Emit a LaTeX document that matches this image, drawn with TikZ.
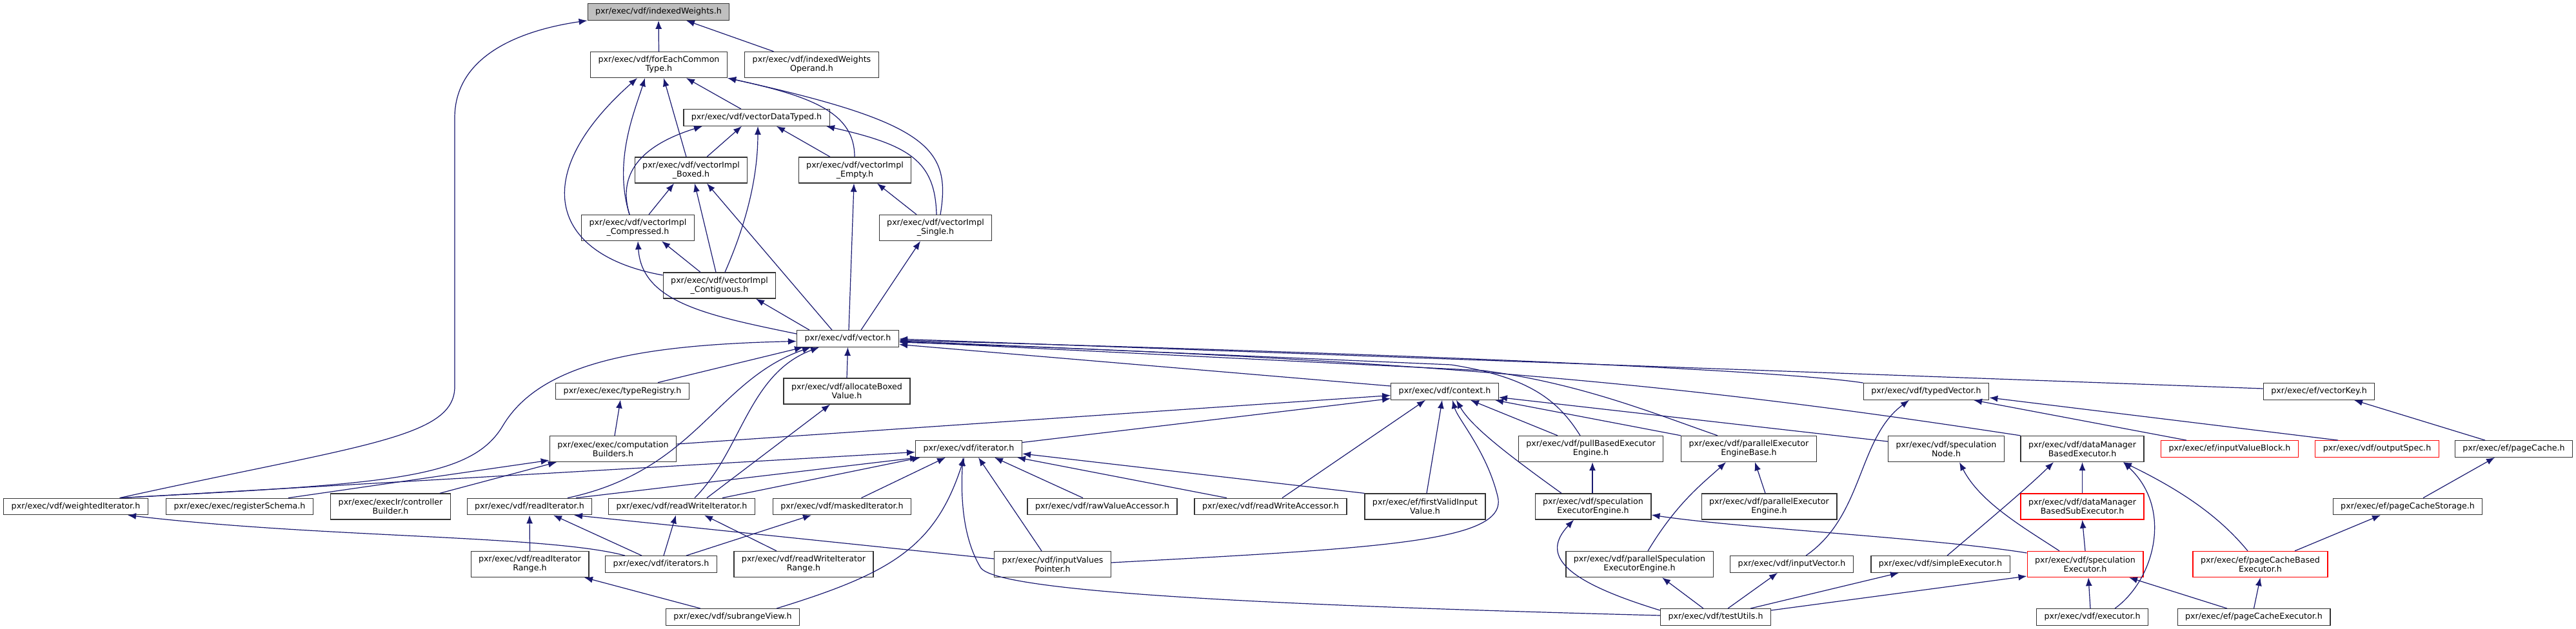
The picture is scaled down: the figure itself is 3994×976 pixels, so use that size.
\documentclass[tikz,border=0pt]{standalone}
\usepackage{fontspec}
\setmainfont{DejaVu Sans}
\usetikzlibrary{arrows.meta}
\definecolor{edgeblue}{RGB}{25,25,112}
\definecolor{rootgray}{RGB}{191,191,191}
\definecolor{boxred}{RGB}{255,0,0}
\newcommand{\filefont}{\fontsize{12.65}{14}\selectfont}

\begin{document}
\begin{tikzpicture}[x=1pt,y=-1pt,
  file/.style={draw=black!80,fill=white,line width=1.3pt,font=\filefont,inner xsep=12pt,inner ysep=0pt,minimum height=25.5pt},
  file2/.style={file,align=center,minimum height=40pt},
  trunc/.style={draw=boxred},
  root/.style={fill=rootgray},
  inc/.style={draw=edgeblue,line width=1.2pt,-{Latex[length=13pt,width=10pt]}}]
\useasboundingbox (0,0) rectangle (3994,976);

\node[file,root] (iw) at (1021,18.5) {pxr/exec/vdf/indexedWeights.h};
\node[file2] (fect) at (1021.5,100.5) {pxr/exec/vdf/forEachCommon\\Type.h};
\node[file2] (iwo) at (1258.5,100.5) {pxr/exec/vdf/indexedWeights\\Operand.h};
\node[file] (vdt) at (1173,182.5) {pxr/exec/vdf/vectorDataTyped.h};
\node[file2] (vboxed) at (1071.5,264) {pxr/exec/vdf/vectorImpl\\\_Boxed.h};
\node[file2] (vempty) at (1325.5,264) {pxr/exec/vdf/vectorImpl\\\_Empty.h};
\node[file2] (vcomp) at (989,353.5) {pxr/exec/vdf/vectorImpl\\\_Compressed.h};
\node[file2] (vsingle) at (1450.5,353.5) {pxr/exec/vdf/vectorImpl\\\_Single.h};
\node[file2] (vcont) at (1115.5,443) {pxr/exec/vdf/vectorImpl\\\_Contiguous.h};
\node[file] (vector) at (1314.5,525.5) {pxr/exec/vdf/vector.h};

\node[file] (typereg) at (965,607) {pxr/exec/exec/typeRegistry.h};
\node[file2] (allocbv) at (1313,607) {pxr/exec/vdf/allocateBoxed\\Value.h};
\node[file] (context) at (2240,607.5) {pxr/exec/vdf/context.h};
\node[file] (typedvec) at (2986.5,607.5) {pxr/exec/vdf/typedVector.h};
\node[file] (vectorkey) at (3595.5,607.5) {pxr/exec/ef/vectorKey.h};

\node[file2] (compb) at (950.5,696.5) {pxr/exec/exec/computation\\Builders.h};
\node[file] (iter) at (1502,696.5) {pxr/exec/vdf/iterator.h};
\node[file2] (pullbee) at (2466.5,696.5) {pxr/exec/vdf/pullBasedExecutor\\Engine.h};
\node[file2] (pxeb) at (2711.5,696.5) {pxr/exec/vdf/parallelExecutor\\EngineBase.h};
\node[file2] (specnode) at (3017.5,696.5) {pxr/exec/vdf/speculation\\Node.h};
\node[file2] (dmbe) at (3228.5,696.5) {pxr/exec/vdf/dataManager\\BasedExecutor.h};
\node[file,trunc] (ivb) at (3457,696.5) {pxr/exec/ef/inputValueBlock.h};
\node[file,trunc] (outspec) at (3685.5,696.5) {pxr/exec/vdf/outputSpec.h};
\node[file] (pagecache) at (3897.5,696.5) {pxr/exec/ef/pageCache.h};

\node[file] (weightedit) at (117.5,786) {pxr/exec/vdf/weightedIterator.h};
\node[file] (regschema) at (371.5,786) {pxr/exec/exec/registerSchema.h};
\node[file2] (ctrlb) at (605.5,786) {pxr/exec/execIr/controller\\Builder.h};
\node[file] (readit) at (821,786) {pxr/exec/vdf/readIterator.h};
\node[file] (rwit) at (1057,786) {pxr/exec/vdf/readWriteIterator.h};
\node[file] (masked) at (1305.5,786) {pxr/exec/vdf/maskedIterator.h};
\node[file] (rawva) at (1709,786) {pxr/exec/vdf/rawValueAccessor.h};
\node[file] (rwacc) at (1970,786) {pxr/exec/vdf/readWriteAccessor.h};
\node[file2] (fvi) at (2209.5,786) {pxr/exec/ef/firstValidInput\\Value.h};
\node[file2] (seee) at (2470,786) {pxr/exec/vdf/speculation\\ExecutorEngine.h};
\node[file2] (pxe) at (2743,786) {pxr/exec/vdf/parallelExecutor\\Engine.h};
\node[file2,trunc] (dmbse) at (3228.5,786) {pxr/exec/vdf/dataManager\\BasedSubExecutor.h};
\node[file] (pcstorage) at (3733,786) {pxr/exec/ef/pageCacheStorage.h};

\node[file2] (readitrange) at (821.5,875.5) {pxr/exec/vdf/readIterator\\Range.h};
\node[file] (iterators) at (1025,875.5) {pxr/exec/vdf/iterators.h};
\node[file2] (rwitrange) at (1246,875.5) {pxr/exec/vdf/readWriteIterator\\Range.h};
\node[file2] (ivp) at (1632,875.5) {pxr/exec/vdf/inputValues\\Pointer.h};
\node[file2] (pspee) at (2542,875.5) {pxr/exec/vdf/parallelSpeculation\\ExecutorEngine.h};
\node[file] (inputvec) at (2778,875.5) {pxr/exec/vdf/inputVector.h};
\node[file] (simpleex) at (3008.5,875.5) {pxr/exec/vdf/simpleExecutor.h};
\node[file2,trunc] (specex) at (3233,875.5) {pxr/exec/vdf/speculation\\Executor.h};
\node[file2,trunc] (pcbe) at (3504.5,875.5) {pxr/exec/ef/pageCacheBased\\Executor.h};

\node[file] (subrange) at (1136,957.5) {pxr/exec/vdf/subrangeView.h};
\node[file] (testutils) at (2660,957.5) {pxr/exec/vdf/testUtils.h};
\node[file] (executor) at (3244,957.5) {pxr/exec/vdf/executor.h};
\node[file] (pcexec) at (3494.5,957.5) {pxr/exec/ef/pageCacheExecutor.h};

\draw[inc] (fect.north) -- (iw.south);
\draw[inc] ([xshift=-59]iwo.north) -- ([xshift=43]iw.south);
\draw[inc] ([xshift=68]weightedit.north) .. controls (560,690) and (705,680) .. (705,600) -- (705,183) .. controls (705,80) and (820,45) .. (iw.south west);
\draw[inc] ([xshift=-24]vdt.north) -- ([xshift=42.5]fect.south);
\draw[inc] ([xshift=-7.5]vboxed.north) -- ([xshift=7.5]fect.south);
\draw[inc] ([xshift=-13]vcomp.north) .. controls (950,250) and (985,170) .. ([xshift=-21.5]fect.south);
\draw[inc] ([yshift=16]vcont.west) .. controls (850,395) and (820,270) .. ([xshift=-33.5]fect.south);
\draw[inc] ([xshift=-0.5]vempty.north) .. controls (1325,175) and (1260,150) .. (fect.south east);
\draw[inc] ([xshift=7.5]vsingle.north) .. controls (1475,230) and (1440,190) .. (fect.south east);
\draw[inc] ([xshift=-13]vcomp.north) .. controls (960,280) and (980,230) .. ([xshift=-84]vdt.south);
\draw[inc] ([xshift=24.5]vboxed.north) -- ([xshift=-23]vdt.south);
\draw[inc] ([xshift=8.5]vcont.north) .. controls (1160,340) and (1175,270) .. ([xshift=2]vdt.south);
\draw[inc] ([xshift=-38.5]vempty.north) -- ([xshift=31]vdt.south);
\draw[inc] ([xshift=1.5]vsingle.north) .. controls (1450,250) and (1410,225) .. ([xshift=108]vdt.south);
\draw[inc] ([xshift=17]vcomp.north) -- ([xshift=-26.5]vboxed.south);
\draw[inc] ([xshift=-5.5]vcont.north) -- ([xshift=5.5]vboxed.south);
\draw[inc] ([xshift=-24.5]vector.north) -- ([xshift=24.5]vboxed.south);
\draw[inc] ([xshift=1.5]vector.north) -- ([xshift=-1.5]vempty.south);
\draw[inc] ([xshift=-29.5]vsingle.north) -- ([xshift=34.5]vempty.south);
\draw[inc] ([xshift=20.5]vector.north) -- ([xshift=-23.5]vsingle.south);
\draw[inc] ([xshift=-59.5]vector.north) -- ([xshift=56.5]vcont.south);
\draw[inc] ([xshift=-29.5]vcont.north) -- ([xshift=37]vcomp.south);
\draw[inc] ([yshift=7.5]vector.west) .. controls (1100,490) and (995,470) .. (vcomp.south);

\draw[inc] ([xshift=70]weightedit.north) .. controls (600,750) and (730,745) .. (780,660) .. controls (840,560) and (1000,535) .. ([yshift=-4]vector.west);
\draw[inc] ([xshift=55]typereg.north) -- ([xshift=-69.5]vector.south);
\draw[inc] ([xshift=59]readit.north) .. controls (1080,730) and (1110,590) .. ([xshift=-57.5]vector.south);
\draw[inc] ([xshift=20]rwit.north) .. controls (1150,700) and (1160,580) .. ([xshift=-44.5]vector.south);
\draw[inc] (allocbv.north) -- (vector.south);
\draw[inc] ([xshift=39]rwit.north) -- ([xshift=-26]allocbv.south);
\draw[inc] ([xshift=63]rwit.north) -- ([xshift=-75]iter.south);
\draw[inc] ([xshift=72]readit.north) -- ([xshift=-78]iter.south);
\draw[inc] ([xshift=70]weightedit.north) -- ([yshift=-5]iter.west);
\draw[inc] ([xshift=30]masked.north) -- ([xshift=-36]iter.south);
\draw[inc] ([xshift=75.5]regschema.north) -- ([yshift=3]compb.south west);
\draw[inc] ([xshift=76.5]ctrlb.north) -- ([xshift=-87.5]compb.south);
\draw[inc] ([xshift=2.5]compb.north) -- ([xshift=-3]typereg.south);
\draw[inc] ([xshift=4]iterators.north) -- ([xshift=-9]rwit.south);
\draw[inc] ([xshift=39]iterators.north) -- ([xshift=-47.5]masked.south);
\draw[inc] ([xshift=-30]iterators.north) -- ([xshift=37]readit.south);
\draw[inc] ([xshift=-56]iterators.north) .. controls (850,830) and (500,835) .. ([xshift=80.5]weightedit.south);
\draw[inc] (readitrange.north) -- (readit.south);
\draw[inc] ([xshift=-42]rwitrange.north) -- ([xshift=35]rwit.south);
\draw[inc] ([yshift=8.5]ivp.west) -- ([xshift=69]readit.south);
\draw[inc] ([xshift=-17]ivp.north) -- ([xshift=15]iter.south);
\draw[inc] ([xshift=68]subrange.north) .. controls (1380,890) and (1450,850) .. ([xshift=-7]iter.south);
\draw[inc] ([xshift=-50]subrange.north) -- ([xshift=84.5]readitrange.south);
\draw[inc] ([yshift=2.5]testutils.west) .. controls (2000,940) and (1540,920) .. (1520,880) .. controls (1490,830) and (1490,760) .. ([xshift=-9]iter.south);
\draw[inc] ([xshift=-30]rawva.north) -- ([xshift=40]iter.south);
\draw[inc] ([xshift=-68]rwacc.north) -- ([xshift=75]iter.south);
\draw[inc] (fvi.north west) -- ([yshift=-7.5]iter.east);

\draw[inc] ([yshift=7.5]compb.east) -- ([yshift=-6]context.west);
\draw[inc] ([yshift=10]iter.east) -- ([yshift=-11]context.west);
\draw[inc] ([yshift=8.5]context.west) -- ([yshift=-9]vector.east);
\draw[inc] ([yshift=2.5]ivp.east) .. controls (2150,850) and (2340,840) .. (2322,770) .. controls (2305,700) and (2260,650) .. ([xshift=12]context.south);
\draw[inc] ([xshift=18]rwacc.north) -- ([xshift=-30]context.south);
\draw[inc] ([xshift=2.5]fvi.north) -- ([xshift=-4]context.south);
\draw[inc] ([xshift=-49]seee.north) .. controls (2330,700) and (2280,660) .. ([xshift=18]context.south);
\draw[inc] ([xshift=-51.5]pullbee.north) -- ([xshift=40]context.south);
\draw[inc] (pxeb.north west) -- ([xshift=78]context.south);
\draw[inc] ([yshift=11.5]specnode.west) -- ([yshift=-9]context.east);
\draw[inc] ([xshift=-16.5]pullbee.north) .. controls (2415,620) and (2370,585) .. (2250,566) -- ([yshift=-3.5]vector.east);
\draw[inc] ([xshift=-48.5]pxeb.north) .. controls (2560,640) and (2450,595) .. (2300,575) -- ([yshift=-4.5]vector.east);
\draw[inc] (dmbe.north west) .. controls (2700,610) and (2300,560) .. ([yshift=-5.5]vector.east);
\draw[inc] (typedvec.north west) .. controls (2800,580) and (2400,555) .. ([yshift=-2.5]vector.east);
\draw[inc] ([yshift=4.5]vectorkey.west) -- ([yshift=-0.5]vector.east);

\draw[inc] ([xshift=22]inputvec.north) .. controls (2890,800) and (2880,680) .. ([xshift=-26.5]typedvec.south);
\draw[inc] ([xshift=-67]ivb.north) -- ([xshift=73.5]typedvec.south);
\draw[inc] ([xshift=-60.5]outspec.north) -- ([yshift=-9.5]typedvec.east);
\draw[inc] ([xshift=-44.5]pagecache.north) -- ([xshift=54.5]vectorkey.south);
\draw[inc] ([xshift=24]pcstorage.north) -- ([xshift=-29.5]pagecache.south);
\draw[inc] ([xshift=53.5]pcbe.north) -- ([xshift=-42]pcstorage.south);
\draw[inc] ([xshift=-19.5]pcbe.north) .. controls (3440,800) and (3380,760) .. ([xshift=63.5]dmbe.south);
\draw[inc] ([xshift=35]executor.north) .. controls (3340,900) and (3370,790) .. ([xshift=63.5]dmbe.south);
\draw[inc] (dmbse.north) -- (dmbe.south);
\draw[inc] ([xshift=10.5]simpleex.north) .. controls (3080,810) and (3140,760) .. ([xshift=-44.5]dmbe.south);
\draw[inc] ([xshift=-40]specex.north) .. controls (3140,820) and (3070,780) .. ([xshift=20.5]specnode.south);
\draw[inc] (specex.north) -- (dmbse.south);
\draw[inc] ([xshift=-3]executor.north) -- ([xshift=5]specex.south);
\draw[inc] ([xshift=-41.5]pcexec.north) -- ([xshift=68]specex.south);
\draw[inc] (pcexec.north) -- (pcbe.south);
\draw[inc] ([yshift=17.5]specex.west) .. controls (3000,835) and (2700,820) .. ([yshift=-13]seee.east);
\draw[inc] ([yshift=10.5]testutils.east) -- ([yshift=-18.5]specex.west);
\draw[inc] ([xshift=54]testutils.north) -- ([xshift=-64.5]simpleex.south);
\draw[inc] ([xshift=19]testutils.north) -- ([xshift=-22]inputvec.south);
\draw[inc] ([xshift=-19]testutils.north) -- ([xshift=35]pspee.south);
\draw[inc] ([yshift=10.5]testutils.west) .. controls (2420,900) and (2390,860) .. ([xshift=-30]seee.south);
\draw[inc] ([xshift=13]pspee.north) .. controls (2600,780) and (2640,750) .. ([xshift=-35.5]pxeb.south);
\draw[inc] ([xshift=-6]pxe.north) -- ([xshift=9.5]pxeb.south);
\draw[inc] ([xshift=-1]seee.north) -- ([xshift=2.5]pullbee.south);
\end{tikzpicture}
\end{document}
